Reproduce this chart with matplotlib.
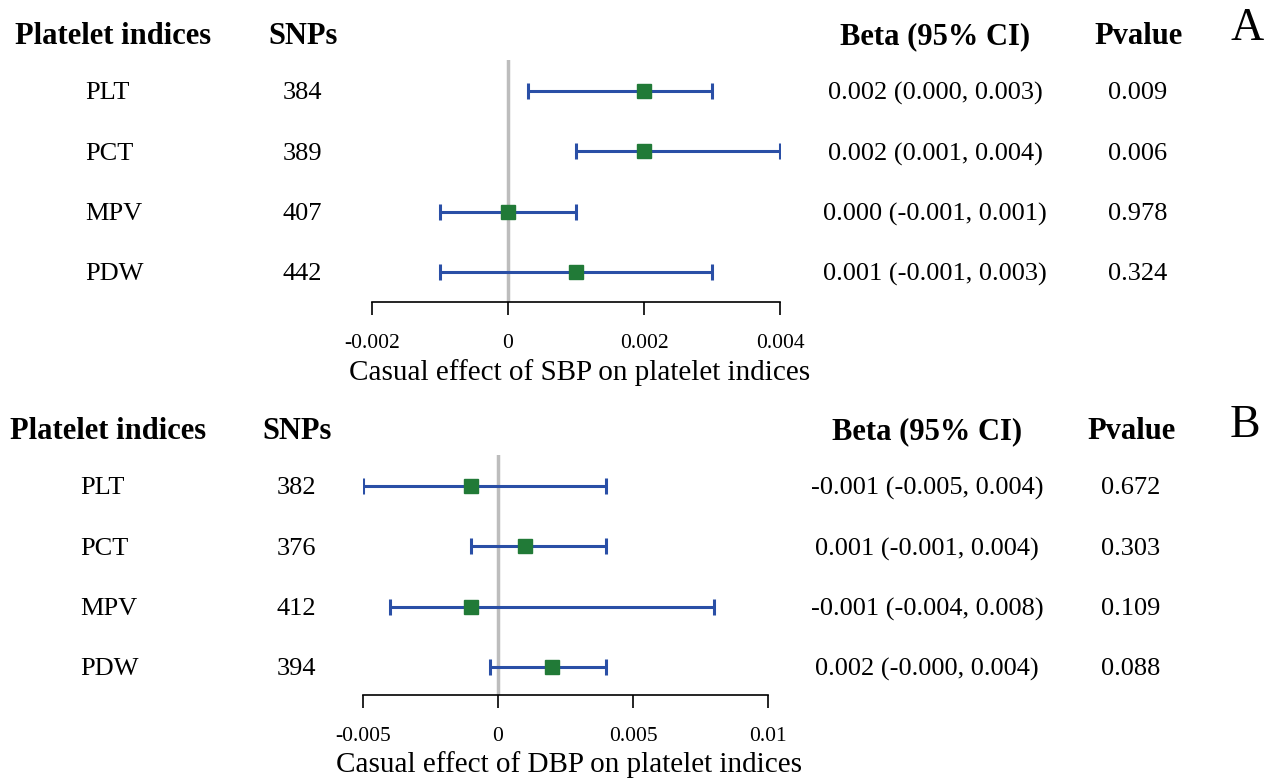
import matplotlib
matplotlib.use('Agg')
import matplotlib.pyplot as plt
import matplotlib.transforms as mtransforms

plt.rcParams['font.family'] = ['Liberation Serif', 'DejaVu Serif']

W, H = 1274, 778

# Panel A: SBP
indices = ['PLT', 'PCT', 'MPV', 'PDW']
snps_a = [384, 389, 407, 442]
beta_a = [0.002, 0.002, 0.000, 0.001]
lo_a = [0.0003, 0.001, -0.001, -0.001]
hi_a = [0.003, 0.004, 0.001, 0.003]
ci_text_a = ['0.002 (0.000, 0.003)', '0.002 (0.001, 0.004)',
             '0.000 (-0.001, 0.001)', '0.001 (-0.001, 0.003)']
p_a = ['0.009', '0.006', '0.978', '0.324']
ticks_a = [-0.002, 0, 0.002, 0.004]
tick_labels_a = ['-0.002', '0', '0.002', '0.004']

# Panel B: DBP
snps_b = [382, 376, 412, 394]
beta_b = [-0.001, 0.001, -0.001, 0.002]
lo_b = [-0.005, -0.001, -0.004, -0.0003]
hi_b = [0.004, 0.004, 0.008, 0.004]
ci_text_b = ['-0.001 (-0.005, 0.004)', '0.001 (-0.001, 0.004)',
             '-0.001 (-0.004, 0.008)', '0.002 (-0.000, 0.004)']
p_b = ['0.672', '0.303', '0.109', '0.088']
ticks_b = [-0.005, 0, 0.005, 0.01]
tick_labels_b = ['-0.005', '0', '0.005', '0.01']

blue = '#2a4fa6'
green = '#217a37'

fig = plt.figure(figsize=(W / 100, H / 100), dpi=100)


def fx(x):
    return x / W


def fy(y):
    return 1 - y / H


def panel(left, right, top, bottom, row0, spacing, snps, beta, lo, hi, ci_text, pvals,
          ticks, tick_labels, xlabel, letter, cols, head_y, letter_xy, xlabel_y):
    ax = fig.add_axes([fx(left), fy(bottom), (right - left) / W, (bottom - top) / H])
    ys = [4, 3, 2, 1]
    ybot = 1 - (bottom - (row0 + 3 * spacing)) / spacing
    ytop = 4 + (row0 - top) / spacing
    ax.set_ylim(ybot, ytop)
    ax.set_xlim(ticks[0], ticks[-1])
    ax.axvline(0, color='#bdbdbd', lw=2.5, zorder=1)
    xerr = [[b - l for b, l in zip(beta, lo)], [h - b for b, h in zip(beta, hi)]]
    ax.errorbar(beta, ys, xerr=xerr, fmt='none', ecolor=blue, elinewidth=2.2,
                capsize=5.5, capthick=2.2, zorder=2)
    ax.plot(beta, ys, 's', color=green, markersize=9.5, zorder=3)
    for s in ['top', 'right', 'left']:
        ax.spines[s].set_visible(False)
    ax.spines['bottom'].set_linewidth(1.2)
    ax.set_yticks([])
    ax.set_xticks(ticks)
    ax.set_xticklabels(tick_labels, fontsize=15.5)
    ax.tick_params(axis='x', length=9, width=1.2, pad=14)
    fig.text(fx((left + right) / 2 + 4), fy(xlabel_y), xlabel, ha='center',
             va='baseline', fontsize=21)

    tr = mtransforms.blended_transform_factory(fig.transFigure, ax.transData)
    c_name, c_snp, c_beta, c_p, c_head = cols
    for y, name, n, ci, p in zip(ys, indices, snps, ci_text, pvals):
        ax.text(fx(c_name), y, name, transform=tr, ha='left', va='center_baseline', fontsize=19)
        ax.text(fx(c_snp), y, str(n), transform=tr, ha='center', va='center_baseline', fontsize=19)
        ax.text(fx(c_beta), y, ci, transform=tr, ha='center', va='center_baseline', fontsize=19)
        ax.text(fx(c_p), y, p, transform=tr, ha='center', va='center_baseline', fontsize=19)

    hy = fy(head_y)
    bold = dict(ha='center', va='center_baseline', fontsize=22, fontweight='bold')
    fig.text(fx(c_head), hy, 'Platelet indices', **bold)
    fig.text(fx(c_snp + 1), hy, 'SNPs', **bold)
    fig.text(fx(c_beta), hy, 'Beta (95% CI)', **bold)
    fig.text(fx(c_p + 1), hy, 'Pvalue', **bold)
    fig.text(fx(letter_xy[0]), fy(letter_xy[1]), letter, ha='center', va='center_baseline',
             fontsize=33)


panel(372, 780, 60, 302, 91, 60.3, snps_a, beta_a, lo_a, hi_a, ci_text_a, p_a,
      ticks_a, tick_labels_a, 'Casual effect of SBP on platelet indices', 'A',
      (85, 302, 935, 1138, 113), 33, (1247, 24), 380)

panel(363, 768, 455, 695, 486, 60.3, snps_b, beta_b, lo_b, hi_b, ci_text_b, p_b,
      ticks_b, tick_labels_b, 'Casual effect of DBP on platelet indices', 'B',
      (80, 296, 927, 1131, 108), 428, (1245, 421), 772)

fig.savefig('out.png', dpi=100)
